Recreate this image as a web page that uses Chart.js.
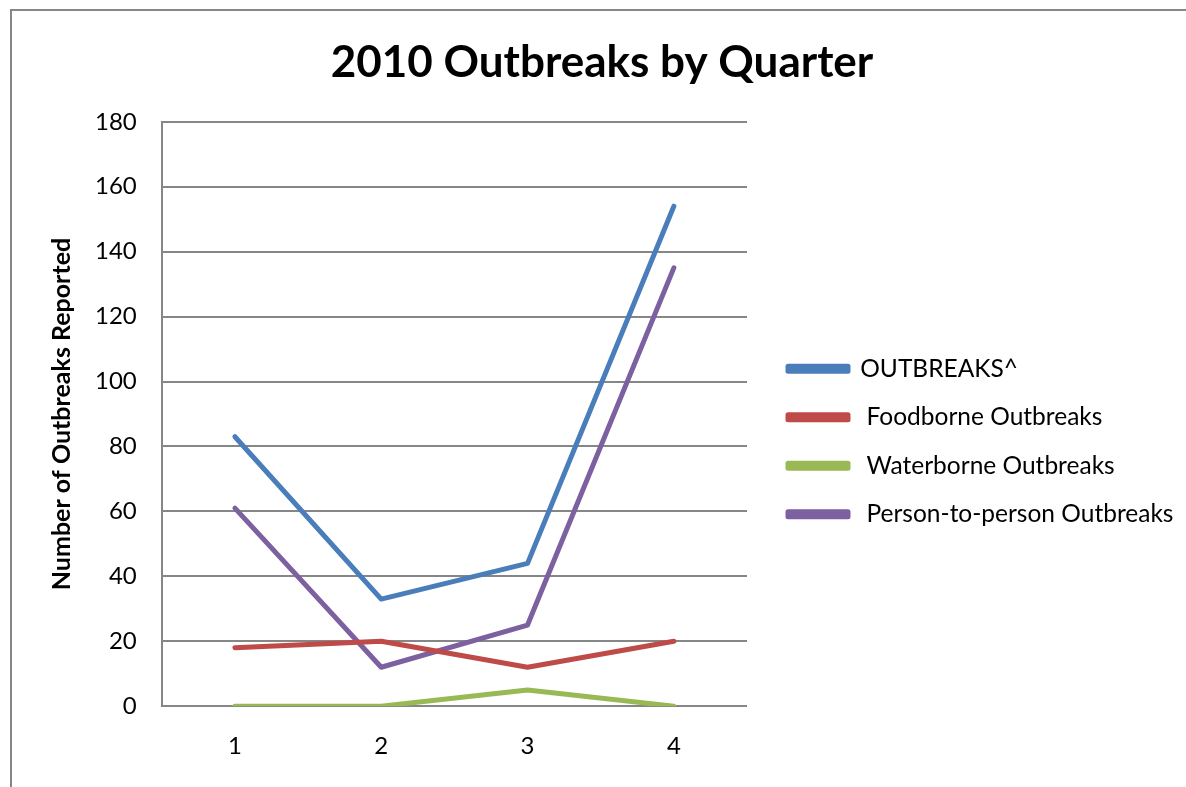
<!DOCTYPE html>
<html lang="en">

<head>
    <meta charset="UTF-8">
    <title>2010 Outbreaks by Quarter</title>
    <style>
        html, body { margin: 0; padding: 0; background: #fff; overflow: hidden; }
        .frame {
            position: absolute; left: 10px; top: 9px; width: 1400px; height: 1000px;
            border-left: 2px solid #868686; border-top: 2px solid #868686;
        }
        .wrap { position: absolute; left: 0; top: 0; width: 1186px; height: 787px; }
    </style>
</head>

<body>
    <div class="frame"></div>
    <div class="wrap">
        <canvas id="myChart"></canvas>
    </div>
    <script src="https://cdn.jsdelivr.net/npm/chart.js"></script>
    <script>
        const quarters = ['1', '2', '3', '4'];
        const outbreaks = [83, 33, 44, 154];
        const foodborne = [18, 20, 12, 20];
        const waterborne = [0, 0, 5, 0];
        const personToPerson = [61, 12, 25, 135];
        const yTicks = [0, 20, 40, 60, 80, 100, 120, 140, 160, 180];

        const font = 'Lato, "Liberation Sans", sans-serif';

        function line(label, data, color) {
            return {
                label: label,
                data: data,
                borderColor: color,
                backgroundColor: color,
                borderWidth: 5,
                pointRadius: 0,
                tension: 0,
                borderCapStyle: 'round',
                borderJoinStyle: 'round'
            }
        }

        // chart.js caps a side legend at a quarter of the width, so widen it
        // and nudge it away from the plot a little
        const wideLegend = {
            id: 'wideLegend',
            beforeLayout(chart) {
                const lg = chart.legend;
                if (lg && !lg._wide) {
                    const fit = lg.fit;
                    lg.fit = function () { fit.call(this); this.width = 419; };
                    lg._wide = true;
                }
            },
            afterLayout(chart) {
                chart.legend.left += 17;
                chart.legend.right += 17;
            }
        };

        const ctx = document.getElementById('myChart').getContext('2d');
        new Chart(ctx, {
            type: 'line',
            data: {
                labels: quarters,
                datasets: [
                    line('OUTBREAKS^', outbreaks, '#4A7EBB'),
                    line(' Foodborne Outbreaks', foodborne, '#BE4B48'),
                    line(' Waterborne Outbreaks', waterborne, '#98B954'),
                    line(' Person-to-person Outbreaks', personToPerson, '#7D60A0')
                ]
            },
            plugins: [wideLegend],
            options: {
                responsive: true,
                maintainAspectRatio: false,
                animation: false,
                layout: { padding: { left: 38, right: 20, top: 36, bottom: 0 } },
                plugins: {
                    title: {
                        display: true,
                        text: '2010 Outbreaks by Quarter',
                        color: '#000',
                        font: { family: font, size: 44, weight: 'bold' },
                        padding: { top: 0, bottom: 33 }
                    },
                    legend: {
                        position: 'right',
                        fullSize: false,
                        title: { display: true, text: ' ', font: { size: 10, lineHeight: 1 }, padding: { top: 22, bottom: 23 } },
                        labels: {
                            color: '#000',
                            font: { family: font, size: 24.5 },
                            boxWidth: 60,
                            boxHeight: 5,
                            padding: 24
                        }
                    },
                    tooltip: { enabled: false }
                },
                scales: {
                    x: {
                        offset: true,
                        grid: { display: false, drawTicks: false },
                        border: { display: false },
                        ticks: { color: '#000', font: { family: font, size: 24 }, padding: 26 }
                    },
                    y: {
                        min: 0,
                        max: 180,
                        afterBuildTicks: axis => { axis.ticks = yTicks.map(v => ({ value: v })) },
                        grid: { color: '#868686', lineWidth: 2, drawTicks: false },
                        border: { display: true, color: '#868686', width: 2 },
                        ticks: { color: '#000', font: { family: font, size: 24 }, padding: 25 },
                        title: {
                            display: true,
                            text: 'Number of Outbreaks Reported',
                            color: '#000',
                            font: { family: font, size: 25, weight: 'bold' },
                            padding: { top: 9, bottom: -7 }
                        }
                    }
                }
            }
        });
    </script>
</body>

</html>
